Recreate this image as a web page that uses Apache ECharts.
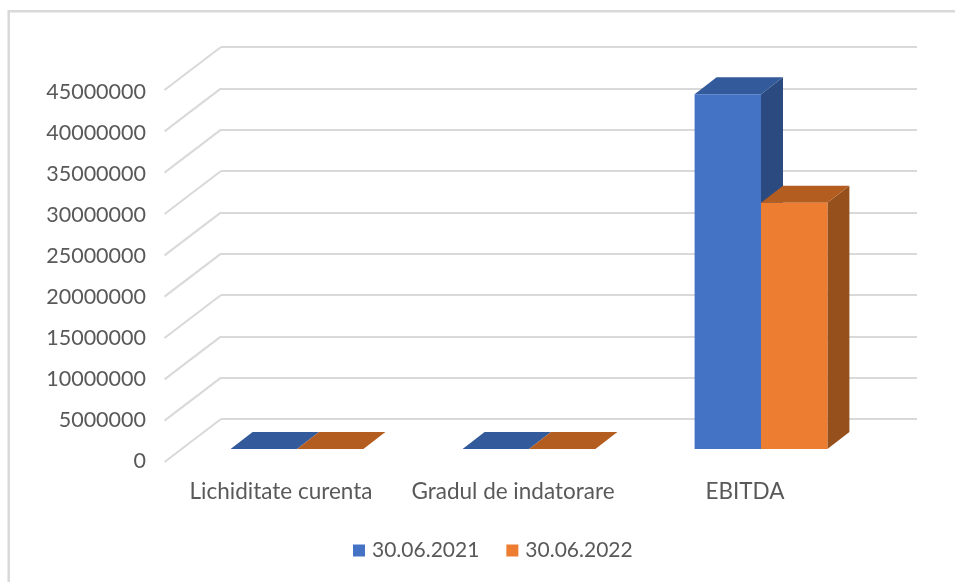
<!DOCTYPE html>
<html>
<head>
<meta charset="utf-8">
<style>
  html, body { margin: 0; padding: 0; background: #fff; }
  #chart { width: 955px; height: 582px; }
</style>
<script src="https://cdn.jsdelivr.net/npm/echarts@6/dist/echarts.min.js"></script>
</head>
<body>
<div id="chart"></div>
<script>
const categories = ['Lichiditate curenta', 'Gradul de indatorare', 'EBITDA']
const seriesNames = ['30.06.2021', '30.06.2022']
const values2021 = [1.6, 0.3, 42900000]
const values2022 = [1.4, 0.4, 29800000]
const yTicks = [0, 5000000, 10000000, 15000000, 20000000, 25000000, 30000000, 35000000, 40000000, 45000000]

// 3D look: the wall grid sits at the back, bars are pushed forward from it
const floorDx = -56.5
const floorDy = 43
const barDx = -40
const barDy = 30
const depthX = 22
const depthY = -17
const barWidth = 66.4

const fontFamily = 'Lato, "Open Sans", sans-serif'
const textColor = '#595959'

const makeBar = (name, values, index, front, top, side) => ({
  name,
  type: 'custom',
  xAxisIndex: 0,
  yAxisIndex: 0,
  clip: false,
  z: 3,
  itemStyle: { color: front },
  data: values.map((v, i) => [i, v]),
  encode: { x: 0, y: 1 },
  renderItem: (params, api) => {
    const base = api.coord([api.value(0), 0])
    const head = api.coord([api.value(0), api.value(1)])
    const x0 = base[0] + barDx + (index - 1) * barWidth
    const x1 = x0 + barWidth
    const y0 = base[1] + barDy
    const y1 = head[1] + barDy
    const poly = (points, fill) => ({
      type: 'polygon',
      shape: { points },
      style: { fill, stroke: 'none' },
    })
    return {
      type: 'group',
      children: [
        poly([[x1, y0], [x1 + depthX, y0 + depthY], [x1 + depthX, y1 + depthY], [x1, y1]], side),
        poly([[x0, y1], [x0 + depthX, y1 + depthY], [x1 + depthX, y1 + depthY], [x1, y1]], top),
        poly([[x0, y0], [x1, y0], [x1, y1], [x0, y1]], front),
      ],
    }
  },
})

const chart = echarts.init(document.getElementById('chart'), null, { renderer: 'canvas' })

chart.setOption({
  animation: false,
  backgroundColor: '#ffffff',
  textStyle: { fontFamily },
  graphic: [
    {
      // only the top and left edges of the frame are inside the picture
      type: 'rect',
      silent: true,
      shape: { x: 8.7, y: 11.3, width: 960, height: 600 },
      style: { fill: 'none', stroke: '#d9d9d9', lineWidth: 2.5 },
    },
  ],
  legend: {
    data: seriesNames,
    left: 353,
    top: 540,
    padding: 0,
    icon: 'rect',
    itemWidth: 12,
    itemHeight: 12,
    itemGap: 27,
    textStyle: { color: textColor, fontSize: 21, fontFamily, padding: [0, 0, 0, 2] },
  },
  grid: [
    // back wall
    { left: 221, top: 47, width: 696, height: 372 },
    // front edge, only carries the labels
    { left: 165, top: 92, width: 696, height: 369 },
  ],
  xAxis: [
    {
      gridIndex: 0,
      type: 'category',
      data: categories,
      axisLine: { show: false },
      axisTick: { show: false },
      axisLabel: { show: false },
    },
    {
      gridIndex: 1,
      type: 'category',
      data: categories,
      axisLine: { show: false },
      axisTick: { show: false },
      axisLabel: { color: textColor, fontSize: 22.5, fontFamily, margin: 19, interval: 0 },
    },
  ],
  yAxis: [
    {
      gridIndex: 0,
      type: 'value',
      min: 0,
      max: 45000000,
      interval: 5000000,
      axisLine: { show: false },
      axisTick: { show: false },
      axisLabel: { show: false },
      splitLine: { lineStyle: { color: '#d9d9d9', width: 2 } },
    },
    {
      gridIndex: 1,
      type: 'value',
      min: 0,
      max: 45000000,
      interval: 5000000,
      axisLine: { show: false },
      axisTick: { show: false },
      axisLabel: { color: textColor, fontSize: 21.5, fontFamily, margin: 19, formatter: (v) => String(v) },
      splitLine: { show: false },
    },
  ],
  series: [
    {
      type: 'custom',
      xAxisIndex: 0,
      yAxisIndex: 0,
      clip: false,
      silent: true,
      z: 1,
      data: yTicks.map((v) => [0, v]),
      encode: { x: 0, y: 1 },
      renderItem: (params, api) => {
        const y = api.coord([0, api.value(1)])[1]
        const x = params.coordSys.x
        return {
          type: 'line',
          shape: { x1: x, y1: y, x2: x + floorDx, y2: y + floorDy },
          style: { stroke: '#d9d9d9', lineWidth: 2 },
        }
      },
    },
    makeBar(seriesNames[0], values2021, 0, '#4472C4', '#335A9A', '#2A4A80'),
    makeBar(seriesNames[1], values2022, 1, '#ED7D31', '#B35D20', '#95501B'),
  ],
})
</script>
</body>
</html>
